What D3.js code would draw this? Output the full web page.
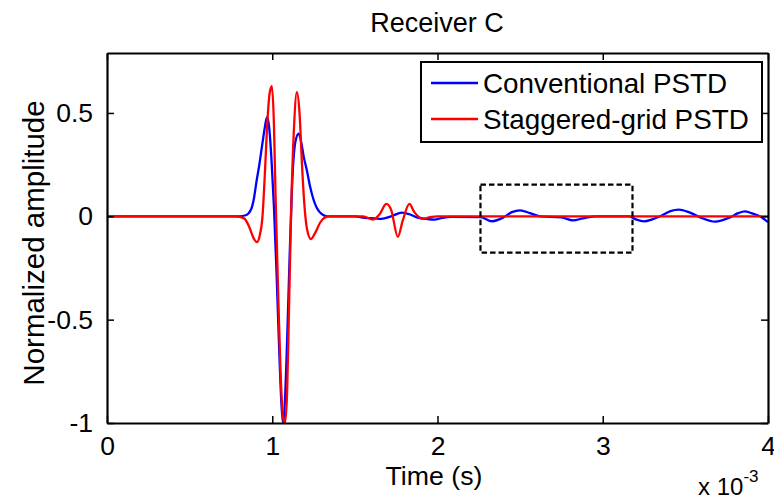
<!DOCTYPE html>
<html>
<head>
<meta charset="utf-8">
<script src="https://cdn.jsdelivr.net/npm/d3@7"></script>
<style>
  html, body { margin: 0; padding: 0; background: #fff; }
  svg { display: block; }
  text { font-family: "Liberation Sans", Arial, sans-serif; fill: #000; }
</style>
</head>
<body>
<svg id="chart" width="774" height="503"></svg>
<script>
// Time axis in units of 1e-3 s
const xTicks = [0, 1, 2, 3, 4];
const xTickLabels = ["0", "1", "2", "3", "4"];
const yTicks = [-1, -0.5, 0, 0.5];
const yTickLabels = ["-1", "-0.5", "0", "0.5"];

// Conventional PSTD trace: time (x 1e-3 s) and normalized amplitude
const convTime = [0, 0.80, 0.84, 0.87, 0.89, 0.905, 0.92, 0.94, 0.955, 0.968, 0.98, 0.995, 1.01, 1.025, 1.04, 1.055, 1.065,
  1.075, 1.09, 1.105, 1.12, 1.14, 1.16, 1.175, 1.19, 1.21, 1.23, 1.25, 1.27, 1.30, 1.33, 1.50, 1.56, 1.62, 1.66, 1.72,
  1.785, 1.83, 1.875, 1.93, 1.98, 2.03, 2.08, 2.26, 2.33, 2.40, 2.45, 2.50, 2.56, 2.62, 2.75, 2.82, 2.88, 2.96, 3.16,
  3.20, 3.25, 3.30, 3.36, 3.41, 3.46, 3.52, 3.59, 3.68, 3.77, 3.82, 3.86, 3.90, 3.95, 4.00];
const convAmp = [0, 0, 0.005, 0.03, 0.09, 0.17, 0.24, 0.35, 0.43, 0.48, 0.44, 0.28, 0.05, -0.25, -0.6, -0.9, -1.0,
  -0.92, -0.6, -0.2, 0.15, 0.36, 0.40, 0.36, 0.29, 0.22, 0.14, 0.08, 0.04, 0.01, 0, 0, -0.008, -0.01, -0.012, 0,
  0.018, 0.01, -0.005, -0.012, -0.016, -0.008, -0.003, -0.004, -0.024, -0.005, 0.02, 0.029, 0.015, 0, -0.005, -0.02, -0.01, 0, 0,
  -0.015, -0.025, -0.015, 0.005, 0.025, 0.032, 0.02, -0.005, -0.026, -0.005, 0.015, 0.024, 0.015, 0, -0.028];

// Staggered-grid PSTD trace
const stagTime = [0, 0.78, 0.83, 0.86, 0.89, 0.907, 0.925, 0.94, 0.955, 0.97, 0.985, 0.998, 1.01, 1.02, 1.035, 1.05, 1.065,
  1.077, 1.09, 1.10, 1.115, 1.13, 1.149, 1.165, 1.18, 1.195, 1.21, 1.234, 1.26, 1.29, 1.32, 1.35, 1.55, 1.61, 1.65,
  1.69, 1.72, 1.76, 1.79, 1.83, 1.86, 1.91, 1.95, 2.0, 4.0];
const stagAmp = [0, 0, -0.01, -0.05, -0.11, -0.125, -0.09, -0.01, 0.2, 0.45, 0.6, 0.63, 0.45, 0.1, -0.35, -0.75, -0.97,
  -1.0, -0.85, -0.5, 0.05, 0.4, 0.60, 0.50, 0.25, 0.05, -0.06, -0.11, -0.08, -0.03, -0.005, 0, 0, -0.016, 0.01,
  0.06, 0.03, -0.1, -0.02, 0.06, 0.02, -0.012, -0.005, 0, 0];

const seriesNames = ["Conventional PSTD", "Staggered-grid PSTD"];
const seriesColors = ["#0000ff", "#ff0000"];

// Highlighted window: [t0, t1] x [amplitude low, amplitude high]
const zoomWindowTime = [2.26, 3.18];
const zoomWindowAmp = [-0.176, 0.153];

const svg = d3.select("#chart");
const plot = { left: 107, right: 768, top: 53, bottom: 423 };

const x = d3.scaleLinear().domain([0, 4]).range([plot.left, plot.right]);
const y = d3.scaleLinear().domain([-1, 0.79]).range([plot.bottom, plot.top]);

// Clip traces to the axes box
svg.append("defs").append("clipPath").attr("id", "clip")
  .append("rect")
  .attr("x", plot.left).attr("y", plot.top - 1)
  .attr("width", plot.right - plot.left).attr("height", plot.bottom - plot.top + 2);

const line = d3.line()
  .x(d => x(d[0]))
  .y(d => y(d[1]))
  .curve(d3.curveMonotoneX);

const traces = [d3.zip(convTime, convAmp), d3.zip(stagTime, stagAmp)];

const g = svg.append("g").attr("clip-path", "url(#clip)");
traces.forEach((pts, i) => {
  g.append("path")
    .datum(pts)
    .attr("d", line)
    .attr("fill", "none")
    .attr("stroke", seriesColors[i])
    .attr("stroke-width", 2.3)
    .attr("stroke-linejoin", "round");
});

// Dashed highlight rectangle
svg.append("rect")
  .attr("x", x(zoomWindowTime[0]))
  .attr("y", y(zoomWindowAmp[1]))
  .attr("width", x(zoomWindowTime[1]) - x(zoomWindowTime[0]))
  .attr("height", y(zoomWindowAmp[0]) - y(zoomWindowAmp[1]))
  .attr("fill", "none")
  .attr("stroke", "#000")
  .attr("stroke-width", 2.2)
  .attr("stroke-dasharray", "5.5,3");

// Axes: bottom/left with labels, top/right mirrored, ticks pointing inward
const tickLen = 7;
const xAxisB = d3.axisBottom(x).tickValues(xTicks).tickSizeInner(-tickLen).tickSizeOuter(0).tickPadding(tickLen + 6)
  .tickFormat((d, i) => xTickLabels[i]);
const xAxisT = d3.axisTop(x).tickValues(xTicks).tickSizeInner(-tickLen).tickSizeOuter(0).tickFormat("");
const yAxisL = d3.axisLeft(y).tickValues(yTicks).tickSizeInner(-tickLen).tickSizeOuter(0).tickPadding(tickLen + 7)
  .tickFormat((d, i) => yTickLabels[i]);
const yAxisR = d3.axisRight(y).tickValues(yTicks).tickSizeInner(-tickLen).tickSizeOuter(0).tickFormat("");

function styleAxis(sel) {
  sel.select(".domain").attr("stroke", "#000").attr("stroke-width", 2.2);
  sel.selectAll(".tick line").attr("stroke", "#000").attr("stroke-width", 1.5);
  sel.selectAll(".tick text")
    .style("font-family", '"Liberation Sans", Arial, sans-serif')
    .style("font-size", "26.5px")
    .attr("fill", "#000");
}

svg.append("g").attr("transform", `translate(0,${plot.bottom})`).call(xAxisB).call(styleAxis);
svg.append("g").attr("transform", `translate(0,${plot.top})`).call(xAxisT).call(styleAxis);
svg.append("g").attr("transform", `translate(${plot.left},0)`).call(yAxisL).call(styleAxis);
svg.append("g").attr("transform", `translate(${plot.right},0)`).call(yAxisR).call(styleAxis);

// Title and axis labels
svg.append("text")
  .attr("x", 437).attr("y", 32)
  .attr("text-anchor", "middle")
  .style("font-size", "27px")
  .text("Receiver C");

svg.append("text")
  .attr("x", 434).attr("y", 485)
  .attr("text-anchor", "middle")
  .style("font-size", "26.7px")
  .text("Time (s)");

svg.append("text")
  .attr("transform", "translate(44,243) rotate(-90)")
  .attr("text-anchor", "middle")
  .style("font-size", "29.5px")
  .text("Normalized amplitude");

// Axis multiplier
const mult = svg.append("text")
  .attr("x", 698).attr("y", 495)
  .style("font-size", "24px");
mult.append("tspan").text("x 10");
mult.append("tspan").attr("dy", -13).style("font-size", "17px").text("-3");

// Legend
const legend = svg.append("g");
legend.append("rect")
  .attr("x", 421).attr("y", 62)
  .attr("width", 341).attr("height", 80)
  .attr("fill", "#fff")
  .attr("stroke", "#000")
  .attr("stroke-width", 2);

const legendRows = [83, 119];
seriesNames.forEach((name, i) => {
  legend.append("line")
    .attr("x1", 431).attr("x2", 478)
    .attr("y1", legendRows[i]).attr("y2", legendRows[i])
    .attr("stroke", seriesColors[i])
    .attr("stroke-width", 2.3);
  legend.append("text")
    .attr("x", 483).attr("y", legendRows[i] + 10)
    .style("font-size", "27.8px")
    .text(name);
});
</script>
</body>
</html>
